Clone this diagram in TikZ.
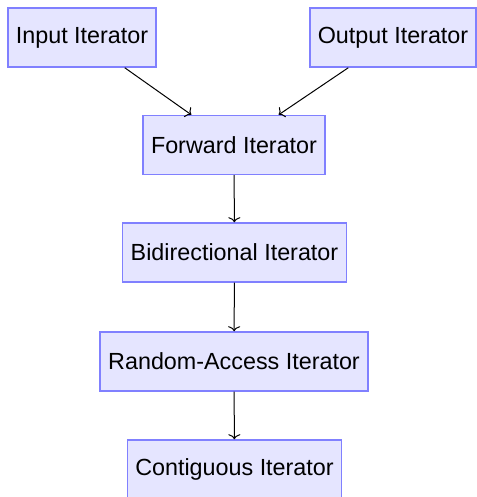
\documentclass[tikz,border=0pt]{standalone}
\usepackage{fontspec}
\setmainfont{Liberation Sans}
\usetikzlibrary{arrows.meta}
\begin{document}
\begin{tikzpicture}[x=0.75pt,y=-0.75pt,
  iterbox/.style={draw=blue!50, fill=blue!10, line width=1.1pt,
    minimum height=44.25pt, inner xsep=6pt, inner ysep=0pt,
    font=\fontsize{17.5pt}{20pt}\selectfont},
  link/.style={-{To[length=3.8pt,width=9pt]}, line width=0.75pt}]
  \clip (0,0) rectangle (477,497);
  \path[use as bounding box] (0,0) rectangle (477,497);

  \node[iterbox] (input)  at (82,37.5)    {Input Iterator};
  \node[iterbox] (output) at (393,37.5)   {Output Iterator};
  \node[iterbox] (fwd)    at (234,145)    {Forward Iterator};
  \node[iterbox] (bidi)   at (234.5,252.5){Bidirectional Iterator};
  \node[iterbox] (rand)   at (234,361.5)  {Random-Access Iterator};
  \node[iterbox] (contig) at (234.5,469.5){Contiguous Iterator};

  \draw[link] (input)  -- (fwd);
  \draw[link] (output) -- (fwd);
  \draw[link] (fwd)    -- (bidi);
  \draw[link] (bidi)   -- (rand);
  \draw[link] (rand)   -- (contig);
\end{tikzpicture}
\end{document}
